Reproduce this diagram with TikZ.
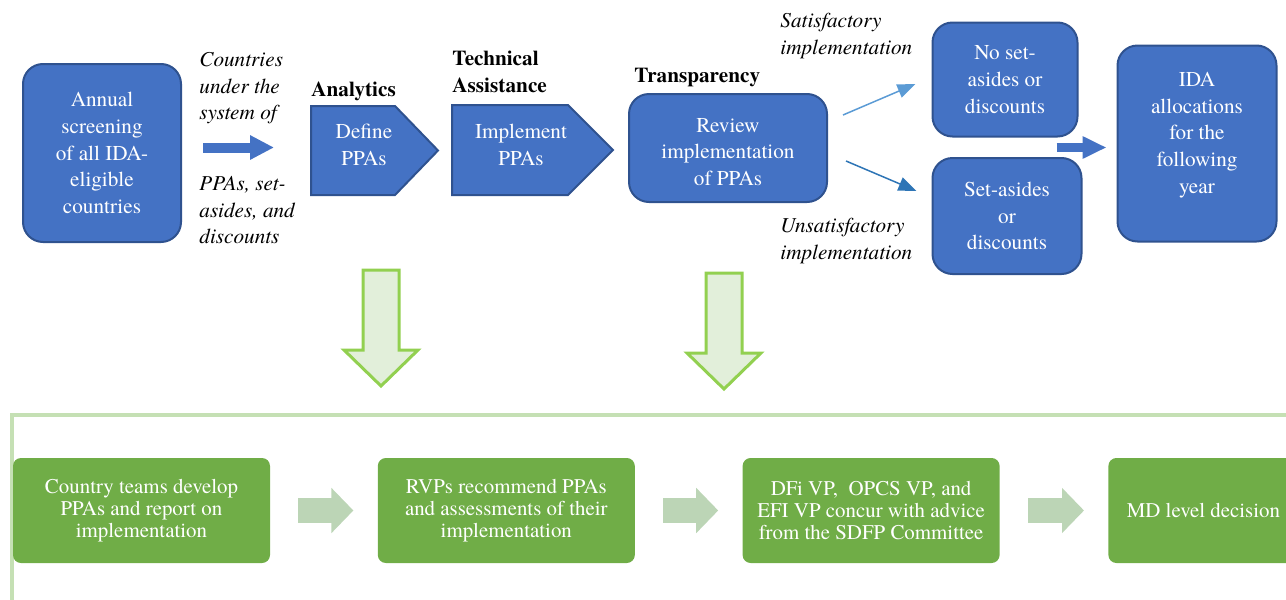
\documentclass[tikz,border=0pt]{standalone}
\usepackage{fontspec}
\setmainfont{TeX Gyre Termes}
\usepackage{xcolor}
\usetikzlibrary{arrows.meta,positioning,calc}

\definecolor{boxblue}{HTML}{4472C4}
\definecolor{edgeblue}{HTML}{2F528F}
\definecolor{lightblue}{HTML}{5B9BD5}
\definecolor{midblue}{HTML}{2E75B6}
\definecolor{boxgreen}{HTML}{70AD47}
\definecolor{palegreen}{HTML}{E2EFDA}
\definecolor{limegreen}{HTML}{92D050}
\definecolor{framegreen}{HTML}{C5E0B4}
\definecolor{arrgreen}{HTML}{BCD5B6}

\begin{document}
\begin{tikzpicture}[
  x=0.5pt, y=-0.5pt,
  bbox/.style={draw=edgeblue, line width=1pt, fill=boxblue, rounded corners=10pt, text=white, align=center, inner sep=2pt, font=\fontsize{10.6}{13.3}\selectfont},
  gbox/.style={fill=boxgreen, rounded corners=4pt, text=white, align=center, minimum width=128.5pt, minimum height=52.5pt, font=\fontsize{10.45}{10.85}\selectfont},
  wtxt/.style={text=white, align=center, inner sep=0pt, font=\fontsize{10.6}{13.3}\selectfont},
  pent/.style={draw=edgeblue, line width=1pt, fill=boxblue},
  itlabel/.style={align=left, inner sep=0pt, anchor=north west, font=\fontsize{10.6}{13.3}\selectfont\itshape},
  bflabel/.style={align=left, inner sep=0pt, anchor=north west, font=\fontsize{10.6}{13.3}\selectfont\bfseries},
  barr/.style={draw=boxblue, line width=5pt, -{Triangle[length=12pt, width=11.5pt]}},
  tarr/.style={line width=0.75pt, -{Triangle[length=9pt, width=7pt]}},
  garr/.style={draw=arrgreen, line width=12.5pt, -{Triangle[length=11pt, width=22pt]}},
  darr/.style={draw=limegreen, line width=1.5pt, fill=palegreen}
]
\useasboundingbox (0,0) rectangle (1286,600);

% top row
\node[bbox, minimum width=79pt, minimum height=89pt] (annual) at (102,153) {Annual\\screening\\of all IDA-\\eligible\\countries};
\node[itlabel] (countries) at (199,52) {Countries\\under the\\system of};
\node[itlabel] (ppasets) at (199,176) {PPAs, set-\\asides, and\\discounts};

\node[bflabel] (analytics) at (311,81) {Analytics};
\draw[pent] (311,106) -- (395,106) -- (438,150.5) -- (395,195) -- (311,195) -- cycle;
\node[wtxt] (define) at (364,145) {Define\\PPAs};

\node[bflabel] (techassist) at (452,51) {Technical\\Assistance};
\draw[pent] (452,105) -- (568,105) -- (613,150) -- (568,195) -- (452,195) -- cycle;
\node[wtxt] (implement) at (521,145) {Implement\\PPAs};

\node[bflabel] (transp) at (634,68) {Transparency};
\node[bbox, minimum width=99pt, minimum height=54pt] (review) at (728,148) {};
\node[wtxt] (reviewtxt) at (728,152) {Review\\implementation\\of PPAs};

\node[itlabel] (satisf) at (780,13) {Satisfactory\\implementation};
\node[itlabel] (unsatisf) at (780,218) {Unsatisfactory\\implementation};

\node[bbox, minimum width=72.5pt, minimum height=57pt] (nsa) at (1005,79.5) {No set-\\asides or\\discounts};
\node[bbox, minimum width=74.5pt, minimum height=58pt] (sa) at (1007,216) {Set-asides\\or\\discounts};
\node[bbox, minimum width=79.5pt, minimum height=98pt] (ida) at (1197,143.5) {};
\node[wtxt] (idatxt) at (1197,135) {IDA\\allocations\\for the\\following\\year};

\draw[barr] ($(annual.east)+(21,-5.5)$) -- ++(71,0);
\draw[tarr, lightblue] ($(review.north east)+(15,22)$) -- ($(nsa.west)+(-16,4.5)$);
\draw[tarr, midblue] ($(review.east)+(18,13)$) -- ($(sa.west)+(-15,-25)$);
\draw[barr, line width=4.5pt, -{Triangle[length=12pt, width=10.5pt]}] ($(ida.west)+(-60,4)$) -- ($(ida.west)+(-10,4)$);

% link to bottom row
\foreach \x/\y in {381/270, 724/273}
  \draw[darr] ({\x-18},\y) -- ({\x+18},\y) -- ({\x+18},{\y+80}) -- ({\x+37},{\y+80})
    -- (\x,{\y+116}) -- ({\x-37},{\y+80}) -- ({\x-18},{\y+80}) -- cycle;

% bottom row
\draw[framegreen, line width=2pt] (12,415) rectangle (1330,650);
\node[gbox] (teams) at (141.5,510.5) {Country teams develop\\PPAs and report on\\implementation};
\node[gbox, right=53.5pt of teams] (rvps) {RVPs recommend PPAs\\and assessments of their\\implementation};
\node[gbox, right=53.5pt of rvps] (concur) {DFi VP,\ \ OPCS VP, and\\EFI VP concur with advice\\from the SDFP Committee};
\node[gbox, right=54pt of concur, minimum width=95pt] (md) {MD level decision};
\foreach \a/\b in {teams/rvps, rvps/concur, concur/md}
  \draw[garr] ($(\a.east)+(28,0)$) -- ($(\b.west)+(-24,0)$);
\end{tikzpicture}
\end{document}
